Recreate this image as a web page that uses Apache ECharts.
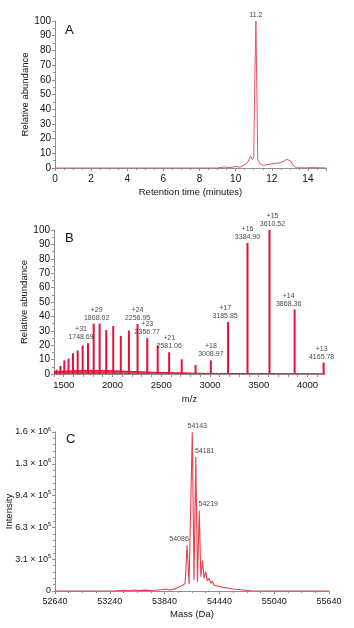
<!DOCTYPE html>
<html>
<head>
<meta charset="utf-8">
<script src="https://cdn.jsdelivr.net/npm/echarts@6/dist/echarts.min.js"></script>
<style>
  html, body { margin: 0; padding: 0; background: #fff; }
  #chart { width: 354px; height: 628px; }
</style>
</head>
<body>
<div id="chart"></div>
<script>
// A: total ion chromatogram
const timeA = [0, 2, 4, 6, 8, 9.0, 9.35, 9.68, 10.0, 10.24, 10.51, 10.64, 10.83, 10.92, 11.0, 11.06, 11.12, 11.17, 11.22, 11.34, 11.52, 11.7, 11.9, 12.07, 12.25, 12.43, 12.62, 12.84, 12.95, 13.04, 13.17, 13.35, 13.8, 14.3, 15]
const abundA = [0, 0, 0, 0, 0, 0, 0.7, 0.2, 1.1, 0.5, 2.5, 3.4, 8, 5.7, 7.5, 60, 100, 55, 6, 3, 1.8, 2.3, 2.6, 3, 3.2, 3.4, 4.3, 5.9, 6.4, 4.8, 1.8, 0.2, 0.1, 0.3, 0]
const peakLabelA = [[11.12, 100, '11.2']]

// B: ESI charge-state envelope
const chargesB = [38, 37, 36, 35, 34, 33, 32, 31, 30, 29, 28, 27, 26, 25, 24, 23, 22, 21, 20, 19, 18, 17, 16, 15, 14, 13]
const mzB = [1426.8, 1465.4, 1506.0, 1549.0, 1594.6, 1642.9, 1694.2, 1748.69, 1807.0, 1868.02, 1936.0, 2007.7, 2084.9, 2168.2, 2256.95, 2356.77, 2463.8, 2581.06, 2710.1, 2852.6, 3008.97, 3185.85, 3384.90, 3610.52, 3868.36, 4165.78]
const abundB = [3, 5.6, 9.5, 10.7, 14.4, 16.3, 19.8, 21.4, 35, 35, 30.5, 33.3, 26.5, 30.2, 34.7, 24.9, 19.8, 15.1, 10.2, 6.3, 9.5, 36, 91, 100, 44.7, 7.9]
const labelledB = [31, 29, 24, 23, 21, 18, 17, 16, 15, 14, 13]
const noiseMzB = [1400, 1500, 1700, 1900, 2100, 2300, 2500, 2700, 2900, 3100, 3500, 4180]
const noiseB = [1.5, 2, 2.5, 2.5, 2, 1.5, 1, 0.8, 0.5, 0.4, 0.3, 0.2]

// C: deconvoluted mass spectrum
const massC = [52640, 53000, 53300, 53400, 53450, 53500, 53560, 53620, 53700, 53800, 53850, 53900, 53930, 53970, 54006, 54042, 54065, 54076, 54086, 54108, 54143, 54162, 54181, 54200, 54219, 54237, 54255, 54272, 54290, 54308, 54327, 54345, 54362, 54380, 54407, 54480, 54590, 54700, 54780, 55000, 55640]
const intensityC = [0, 0, 2000, 8000, 3000, 10000, 4000, 9000, 5000, 12000, 20000, 10000, 16000, 26000, 43000, 59000, 75000, 60000, 450000, 69000, 1560000, 108000, 1316000, 92000, 791000, 141000, 299000, 125000, 190000, 98000, 125000, 75000, 98000, 59000, 52000, 36000, 20000, 10000, 3000, 0, 0]
const labelledC = [54143, 54181, 54219, 54086]

const FONT = "'Liberation Sans Narrow', 'Liberation Sans', sans-serif"
const AXIS_GREY = '#8f8f8f'
const labelOffsetB = { 31: [-7, 0], 29: [-3, 0], 17: [-3, 0], 15: [3, 0], 14: [-6, 0], 13: [-2, 0] }
const labelOffsetC = { 54143: [5, 0], 54181: [9, 0], 54219: [9, 0], 54086: [-8, 0] }

function pairs(xs, ys) {
  return xs.map((x, i) => [x, ys[i]])
}

function sciLabel(value) {
  if (value === 0) return '0'
  const exp = Math.floor(Math.log10(value))
  const mant = (value / Math.pow(10, exp)).toFixed(1)
  return `{m|${mant} × 10}{e|${exp}}`
}

function axisBase(extra) {
  return Object.assign({
    type: 'value',
    axisLine: { show: true, lineStyle: { color: AXIS_GREY, width: 1 } },
    axisTick: { show: true, length: 3, lineStyle: { color: AXIS_GREY } },
    minorTick: { show: true, length: 2, lineStyle: { color: AXIS_GREY } },
    splitLine: { show: false },
    axisLabel: { color: '#111', fontSize: 10, fontFamily: FONT, margin: 4 },
    nameLocation: 'middle',
    nameMoveOverlap: false,
    nameTextStyle: { color: '#111', fontSize: 9.5, fontFamily: FONT }
  }, extra)
}

function buildOption() {
  const peakLabelsB = labelledB.map((z) => {
    const i = chargesB.indexOf(z)
    return {
      value: [mzB[i], abundB[i], `+${z}\n${mzB[i].toFixed(2)}`],
      label: { offset: labelOffsetB[z] || [0, 0] }
    }
  })
  const peakLabelsC = labelledC.map((m) => {
    const i = massC.indexOf(m)
    return {
      value: [m, intensityC[i], String(m)],
      label: { offset: labelOffsetC[m] || [0, 0] }
    }
  })
  const peakLabel = {
    show: true,
    position: 'top',
    distance: 2,
    color: '#111',
    fontSize: 7,
    lineHeight: 8,
    fontFamily: FONT,
    formatter: (p) => p.value[2]
  }

  return {
    animation: false,
    backgroundColor: '#fff',
    grid: [
      { left: 55, top: 21, width: 271, height: 147, outerBoundsMode: 'none' },
      { left: 54, top: 230, width: 271, height: 144, outerBoundsMode: 'none' },
      { left: 55, top: 432, width: 274, height: 159, outerBoundsMode: 'none' }
    ],
    xAxis: [
      axisBase({
        gridIndex: 0, min: 0, max: 15, interval: 2,
        minorTick: { show: true, splitNumber: 4, length: 2, lineStyle: { color: AXIS_GREY } },
        axisLabel: { color: '#111', fontSize: 10, fontFamily: FONT, margin: 6, showMaxLabel: false },
        name: 'Retention time (minutes)', nameGap: 19
      }),
      axisBase({
        gridIndex: 1, min: 1400, max: 4180, interval: 100,
        minorTick: { show: false },
        axisLabel: {
          color: '#111', fontSize: 9.5, fontFamily: FONT, margin: 6, showMaxLabel: false,
          formatter: (v) => (v % 500 === 0 ? String(v) : '')
        },
        name: 'm/z', nameGap: 20
      }),
      axisBase({
        gridIndex: 2, min: 52640, max: 55640, interval: 600,
        minorTick: { show: true, splitNumber: 4, length: 2, lineStyle: { color: AXIS_GREY } },
        axisLabel: { color: '#111', fontSize: 9, fontFamily: FONT, margin: 6, formatter: (v) => String(v) },
        name: 'Mass (Da)', nameGap: 18
      })
    ],
    yAxis: [
      axisBase({
        gridIndex: 0, min: 0, max: 100, interval: 10,
        minorTick: { show: true, splitNumber: 2, length: 2, lineStyle: { color: AXIS_GREY } },
        name: 'Relative abundance', nameGap: 25
      }),
      axisBase({
        gridIndex: 1, min: 0, max: 100, interval: 10,
        minorTick: { show: true, splitNumber: 2, length: 2, lineStyle: { color: AXIS_GREY } },
        name: 'Relative abundance', nameGap: 25
      }),
      axisBase({
        gridIndex: 2, min: 0, max: 1562500, interval: 312500,
        minorTick: { show: true, splitNumber: 5, length: 2, lineStyle: { color: AXIS_GREY } },
        axisLabel: {
          color: '#111', fontSize: 9, fontFamily: FONT, margin: 4,
          formatter: sciLabel,
          rich: {
            m: { fontSize: 9, fontFamily: FONT, color: '#111' },
            e: { fontSize: 5.5, fontFamily: FONT, color: '#111', padding: [0, 0, 6, 0] }
          }
        },
        name: 'Intensity', nameGap: 41
      })
    ],
    graphic: [
      { type: 'text', left: 65, top: 24, style: { text: 'A', fontSize: 13, fontFamily: FONT, fill: '#111' } },
      { type: 'text', left: 65, top: 232, style: { text: 'B', fontSize: 13, fontFamily: FONT, fill: '#111' } },
      { type: 'text', left: 66, top: 433, style: { text: 'C', fontSize: 13, fontFamily: FONT, fill: '#111' } }
    ],
    series: [
      {
        type: 'line', xAxisIndex: 0, yAxisIndex: 0,
        showSymbol: false, symbol: 'none',
        lineStyle: { width: 1, color: '#ee5062' },
        data: pairs(timeA, abundA)
      },
      {
        type: 'scatter', xAxisIndex: 0, yAxisIndex: 0,
        symbolSize: 0, silent: true,
        label: peakLabel,
        data: peakLabelA.map((d) => ({ value: d }))
      },
      {
        type: 'line', xAxisIndex: 1, yAxisIndex: 1,
        showSymbol: false, symbol: 'none',
        lineStyle: { width: 1, color: '#e5103a' },
        areaStyle: { color: '#e5103a', opacity: 0.85 },
        data: pairs(noiseMzB, noiseB)
      },
      {
        type: 'bar', xAxisIndex: 1, yAxisIndex: 1,
        barWidth: 2,
        itemStyle: { color: '#e5103a' },
        data: pairs(mzB, abundB)
      },
      {
        type: 'scatter', xAxisIndex: 1, yAxisIndex: 1,
        symbolSize: 0, silent: true,
        label: peakLabel,
        data: peakLabelsB
      },
      {
        type: 'line', xAxisIndex: 2, yAxisIndex: 2,
        showSymbol: false, symbol: 'none',
        lineStyle: { width: 1.1, color: '#e8404f' },
        data: pairs(massC, intensityC)
      },
      {
        type: 'scatter', xAxisIndex: 2, yAxisIndex: 2,
        symbolSize: 0, silent: true,
        label: peakLabel,
        data: peakLabelsC
      }
    ]
  }
}

const chart = echarts.init(document.getElementById('chart'), null, { renderer: 'canvas' })
chart.setOption(buildOption())
</script>
</body>
</html>
